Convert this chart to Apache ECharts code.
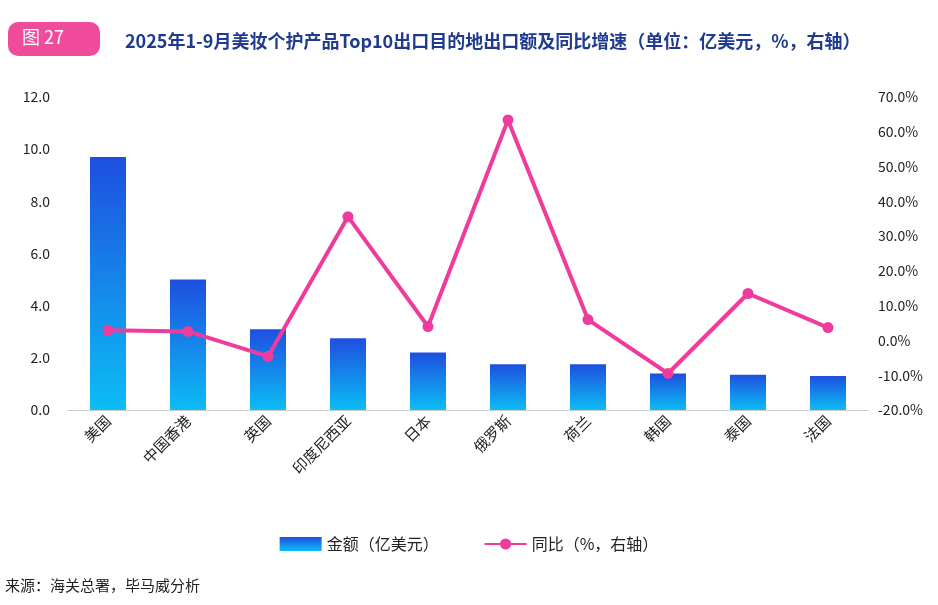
<!DOCTYPE html>
<html><head><meta charset="utf-8">
<script src="https://cdn.jsdelivr.net/npm/echarts@6/dist/echarts.min.js"></script>
<style>html,body{margin:0;padding:0;background:#fff}#c{width:938px;height:605px}</style>
</head><body><div id="c"></div>
<script>
const categories = ['美国','中国香港','英国','印度尼西亚','日本','俄罗斯','荷兰','韩国','泰国','法国'];
const amount = [9.7,5.0,3.1,2.75,2.2,1.75,1.75,1.4,1.35,1.3];
const yoy = [2.9,2.6,-4.6,35.6,4.0,63.4,6.0,-9.5,13.5,3.7];
const leftTicks = {min:0,max:12,interval:2};
const rightTicks = {min:-20,max:70,interval:10};
const chart = echarts.init(document.getElementById('c'));
const font = '"Noto Sans CJK SC","Noto Sans",sans-serif';
chart.setOption({
  textStyle:{fontFamily:font},
  graphic:[
    {type:'rect',left:8,top:22,shape:{width:92,height:34,r:10},style:{fill:'#f04b9c'}},
    {type:'text',left:22,top:28,style:{text:'图 27',fill:'#fff',font:'18px '+font}},
    {type:'text',left:5,top:578,style:{text:'来源：海关总署，毕马威分析',fill:'#222',font:'15px '+font}}
  ],
  title:{text:'2025年1-9月美妆个护产品Top10出口目的地出口额及同比增速（单位：亿美元，%，右轴）',left:120,top:27,
    textStyle:{fontSize:18,fontWeight:'bold',color:'#1f3a8f',fontFamily:font}},
  legend:{bottom:48,left:'center',itemGap:45,itemWidth:42,itemHeight:14,textStyle:{fontSize:16,color:'#222'},
    data:[{name:'金额（亿美元）',icon:'rect'},{name:'同比（%，右轴）'}]},
  grid:{left:68,right:70,top:97,bottom:195},
  xAxis:{type:'category',data:categories,axisTick:{show:false},
    axisLine:{lineStyle:{color:'#ccc'}},
    axisLabel:{rotate:45,color:'#222',fontSize:15,interval:0}},
  yAxis:[
    {type:'value',...leftTicks,splitLine:{show:false},axisLabel:{color:'#222',fontSize:14,formatter:v=>v.toFixed(1),margin:18}},
    {type:'value',...rightTicks,splitLine:{show:false},axisLabel:{color:'#222',fontSize:14,margin:10,formatter:v=>v.toFixed(1)+'%'}}
  ],
  series:[
    {name:'金额（亿美元）',type:'bar',data:amount,barWidth:36,
      itemStyle:{color:new echarts.graphic.LinearGradient(0,0,0,1,[{offset:0,color:'#1e4fdf'},{offset:1,color:'#0cbdf5'}])}},
    {name:'同比（%，右轴）',type:'line',yAxisIndex:1,data:yoy,symbol:'circle',symbolSize:11,
      lineStyle:{width:4,color:'#ef3b9c'},itemStyle:{color:'#ef3b9c'}}
  ]
});
</script></body></html>
